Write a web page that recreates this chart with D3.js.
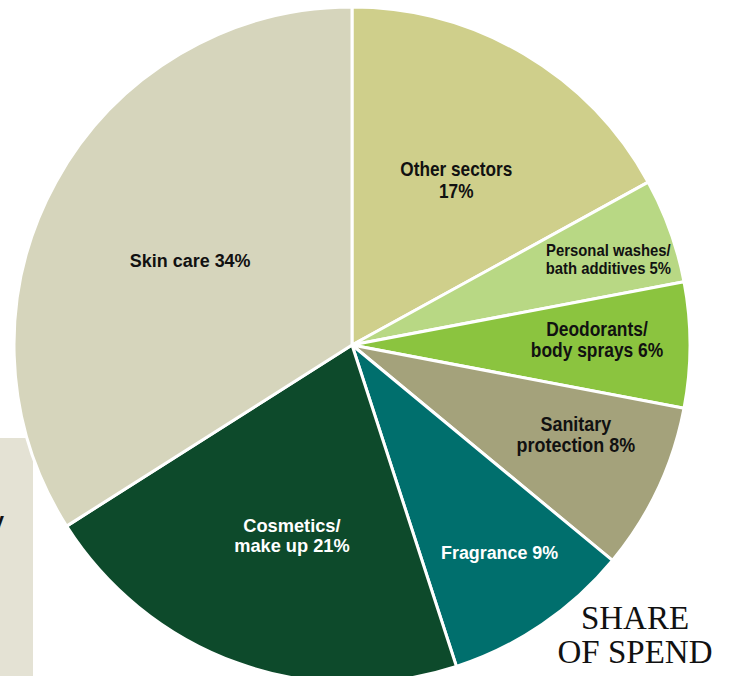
<!DOCTYPE html>
<html>
<head>
<meta charset="utf-8">
<script src="https://cdn.jsdelivr.net/npm/d3@7"></script>
<style>
  html, body { margin: 0; padding: 0; background: #ffffff; }
  svg { display: block; }
</style>
</head>
<body>
<svg id="chart" width="731" height="676"></svg>
<script>
// Share of spend by sector, clockwise from 12 o'clock
const categories = [
  "Other sectors",
  "Personal washes/ bath additives",
  "Deodorants/ body sprays",
  "Sanitary protection",
  "Fragrance",
  "Cosmetics/ make up",
  "Skin care"
];
const shares = [17, 5, 6, 8, 9, 21, 34];
// how each label is broken into lines (percent goes at the end of the last line)
const labelLines = [
  ["Other sectors", ""],
  ["Personal washes/", "bath additives"],
  ["Deodorants/", "body sprays"],
  ["Sanitary", "protection"],
  ["Fragrance"],
  ["Cosmetics/", "make up"],
  ["Skin care"]
];
const titleLines = ["SHARE", "OF SPEND"];

// ---- styling ----
const sliceColors = ["#cfcf8b", "#b8d884", "#8bc43f", "#a4a27b", "#006f6d", "#0d4a2b", "#d6d5bc"];
const labelColors = ["#111", "#111", "#111", "#111", "#fff", "#fff", "#111"];
// label placement: share of the slice's sweep, share of the radius
const labelSweep = [0.525, 0.57, 0.44, 0.38, 0.46, 0.47, 0.49];
const labelRing  = [0.58, 0.80, 0.725, 0.713, 0.752, 0.59, 0.54];
// type: size, horizontal squeeze, line spacing
const labelSize    = [21, 16.5, 20, 19.5, 19, 19, 18.5];
const labelSqueeze = [0.82, 0.9, 0.87, 0.92, 0.94, 0.96, 0.97];
const labelLead    = [22, 18, 20.5, 21, 20, 20, 20];
const labelFont = "'Liberation Sans Narrow', 'Liberation Sans', Arial, sans-serif";

const svg = d3.select("#chart");
const cx = 352, cy = 345, R = 338;

// cropped side panel at the lower left
svg.append("rect")
  .attr("x", 0).attr("y", 438).attr("width", 33).attr("height", 238)
  .attr("fill", "#e4e2d4");
svg.append("text")
  .attr("x", 4).attr("y", 528)
  .attr("text-anchor", "end")
  .attr("font-family", labelFont)
  .attr("font-weight", "bold").attr("font-size", 22)
  .attr("fill", "#111")
  .text("y");

const pie = d3.pie().sort(null).value(d => d.value);
const arcs = pie(categories.map((c, i) => ({ name: c, value: shares[i], i })));
const arc = d3.arc().innerRadius(0).outerRadius(R);

const g = svg.append("g").attr("transform", `translate(${cx},${cy})`);

g.selectAll("path.slice")
  .data(arcs)
  .join("path")
  .attr("class", "slice")
  .attr("d", arc)
  .attr("fill", d => sliceColors[d.data.i])
  .attr("stroke", "#ffffff")
  .attr("stroke-width", 3)
  .attr("stroke-linejoin", "round");

g.selectAll("text.label")
  .data(arcs)
  .join("text")
  .attr("class", "label")
  .each(function (d) {
    const i = d.data.i;
    const a = d.startAngle + labelSweep[i] * (d.endAngle - d.startAngle);
    const r = R * labelRing[i];
    const x = r * Math.sin(a), y = -r * Math.cos(a);
    const lines = labelLines[i].slice();
    const last = lines.length - 1;
    lines[last] = (lines[last] ? lines[last] + " " : "") + shares[i] + "%";
    const fs = labelSize[i], lh = labelLead[i];
    const t = d3.select(this)
      .attr("transform", `translate(${x},${y}) scale(${labelSqueeze[i]},1)`)
      .attr("text-anchor", "middle")
      .attr("font-family", labelFont)
      .attr("font-weight", "bold")
      .attr("font-size", fs)
      .attr("fill", labelColors[i]);
    lines.forEach((ln, k) => {
      t.append("tspan")
        .attr("x", 0)
        .attr("y", (k - (lines.length - 1) / 2) * lh + fs * 0.36)
        .text(ln);
    });
  });

// title
titleLines.forEach((ln, k) => {
  svg.append("text")
    .attr("x", 635).attr("y", 629 + k * 34)
    .attr("text-anchor", "middle")
    .attr("font-family", "'Liberation Serif', 'DejaVu Serif', serif")
    .attr("font-size", 33)
    .attr("fill", "#111")
    .text(ln);
});
</script>
</body>
</html>
